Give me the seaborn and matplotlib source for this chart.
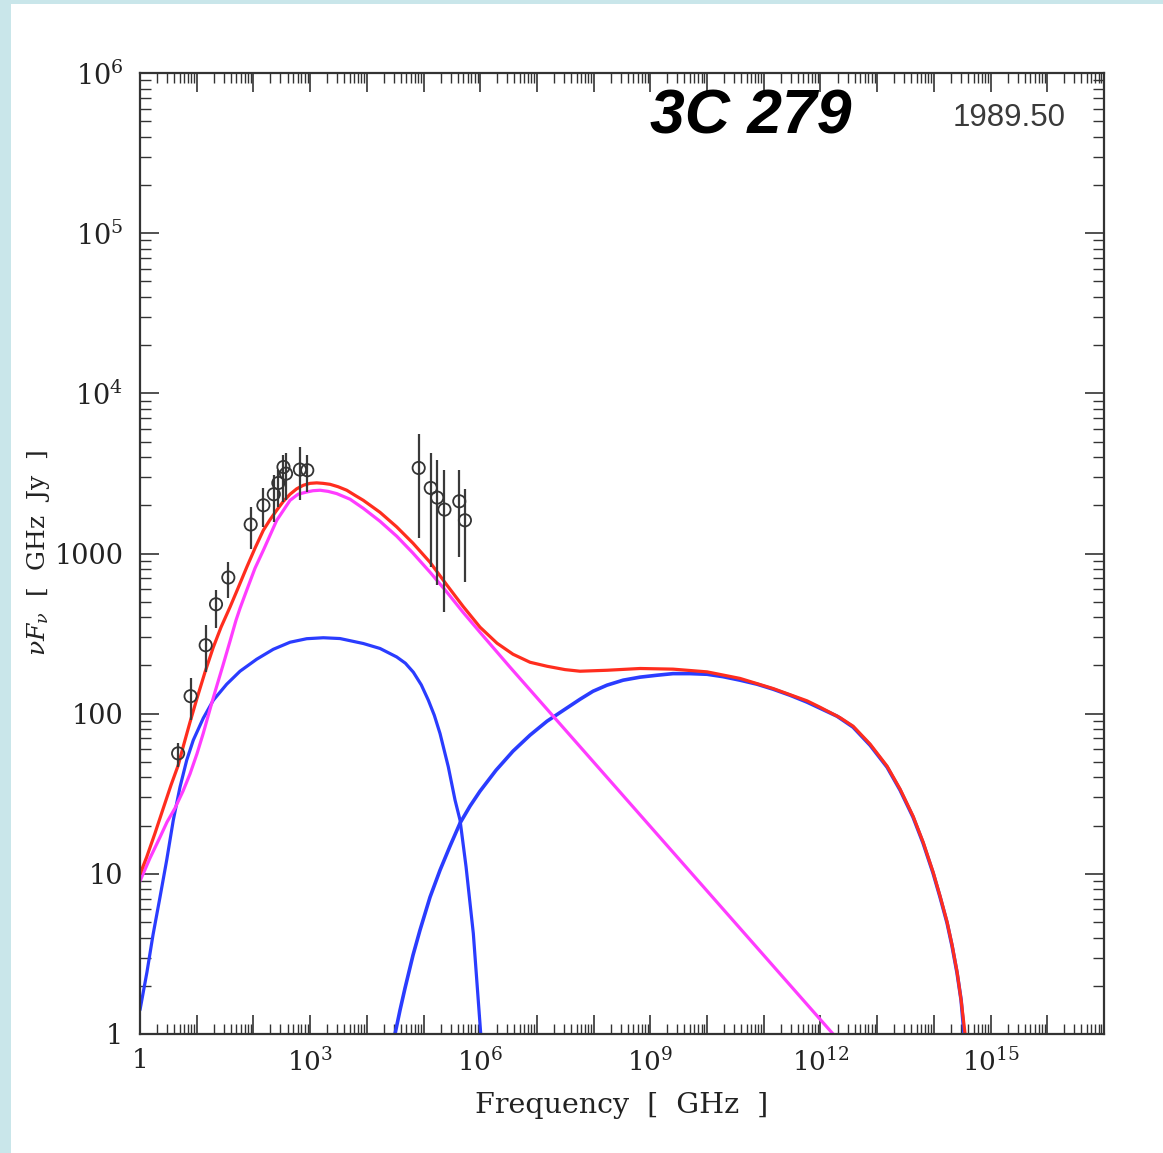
import numpy as np
import pandas as pd
import matplotlib
matplotlib.use("Agg")
import matplotlib.pyplot as plt
import seaborn as sns
from matplotlib.patches import Rectangle
from matplotlib.ticker import FixedLocator, LogLocator, NullFormatter

# ---------------- data (log10 of frequency in GHz, log10 of nuF_nu in GHz Jy) ----------------
magenta_log_nu = [0.000, 0.176, 0.353, 0.476, 0.617, 0.758, 0.882, 1.005, 1.116, 1.265,
                  1.353, 1.464, 1.587, 1.693, 1.764, 1.882, 2.028, 2.175, 2.411, 2.646,
                  2.787, 2.940, 3.051, 3.175, 3.316, 3.469, 3.704, 3.938, 4.233, 4.527,
                  4.815, 5.115, 5.414, 5.697, 5.996, 6.526, 12.222]
magenta_log_f = [0.955, 1.098, 1.229, 1.323, 1.410, 1.516, 1.624, 1.750, 1.878, 2.066,
                 2.172, 2.303, 2.452, 2.583, 2.658, 2.771, 2.908, 3.020, 3.207, 3.332,
                 3.370, 3.384, 3.392, 3.395, 3.388, 3.374, 3.339, 3.282, 3.201, 3.108,
                 3.002, 2.883, 2.758, 2.633, 2.508, 2.290, 0.000]

red_log_nu = [0.000, 0.118, 0.265, 0.411, 0.547, 0.675, 0.764, 0.882, 1.000, 1.146,
              1.293, 1.429, 1.587, 1.728, 1.882, 2.028, 2.175, 2.293, 2.411, 2.522,
              2.646, 2.764, 2.880, 2.998, 3.116, 3.228, 3.351, 3.492, 3.646, 3.792,
              3.938, 4.233, 4.527, 4.815, 5.115, 5.414, 5.697, 5.996, 6.296, 6.578,
              6.878, 7.178, 7.496, 7.760, 8.236, 8.818, 9.400, 10.000, 10.582, 11.164,
              11.764, 11.993, 12.346, 12.575, 12.875, 13.175, 13.404, 13.633, 13.810,
              13.986, 14.109, 14.233, 14.321, 14.409, 14.480, 14.550]
red_log_f = [0.998, 1.105, 1.254, 1.410, 1.554, 1.679, 1.797, 1.947, 2.090, 2.259,
             2.415, 2.540, 2.665, 2.783, 2.914, 3.033, 3.145, 3.211, 3.270, 3.323,
             3.370, 3.404, 3.426, 3.438, 3.441, 3.438, 3.432, 3.417, 3.395, 3.363,
             3.332, 3.257, 3.166, 3.064, 2.945, 2.802, 2.670, 2.540, 2.440, 2.371,
             2.321, 2.296, 2.275, 2.265, 2.271, 2.282, 2.278, 2.261, 2.220, 2.157,
             2.080, 2.040, 1.975, 1.922, 1.810, 1.672, 1.529, 1.360, 1.198,
             1.011, 0.861, 0.699, 0.555, 0.387, 0.212, 0.000]

blue1_log_nu = [0.000, 0.123, 0.229, 0.353, 0.471, 0.587, 0.705, 0.824, 0.940, 1.116,
                1.293, 1.529, 1.764, 2.058, 2.351, 2.646, 2.940, 3.233, 3.527, 3.938,
                4.233, 4.527, 4.680, 4.820, 4.960, 5.085, 5.190, 5.291, 5.437, 5.556,
                5.644, 5.750, 5.878, 6.009]
blue1_log_f = [0.150, 0.387, 0.618, 0.855, 1.086, 1.335, 1.541, 1.710, 1.835, 1.972,
               2.084, 2.184, 2.265, 2.340, 2.402, 2.446, 2.468, 2.474, 2.469, 2.438,
               2.407, 2.354, 2.315, 2.259, 2.180, 2.084, 1.990, 1.876, 1.668, 1.460,
               1.335, 1.044, 0.628, 0.000]

blue2_log_nu = [4.497, 4.586, 4.674, 4.815, 4.938, 5.115, 5.291, 5.467, 5.644, 5.820,
                5.996, 6.279, 6.578, 6.878, 7.178, 7.496, 7.760, 7.989, 8.236, 8.519,
                8.818, 9.118, 9.400, 9.700, 10.000, 10.282, 10.582, 10.882, 11.164,
                11.464, 11.764, 11.993, 12.293, 12.575, 12.875, 13.175, 13.404, 13.633,
                13.810, 13.986, 14.109, 14.233, 14.321, 14.409, 14.480, 14.533]
blue2_log_f = [0.000, 0.150, 0.287, 0.493, 0.649, 0.855, 1.023, 1.173, 1.317, 1.423,
               1.516, 1.647, 1.766, 1.866, 1.953, 2.028, 2.090, 2.140, 2.178, 2.209,
               2.228, 2.240, 2.250, 2.250, 2.246, 2.231, 2.209, 2.184, 2.153,
               2.115, 2.072, 2.034, 1.984, 1.916, 1.803, 1.666, 1.523, 1.354,
               1.192, 1.005, 0.855, 0.693, 0.549, 0.381, 0.212, 0.000]

# observations: frequency [GHz], nuF_nu [GHz Jy], lower and upper error-bar ends
obs_nu = [4.7, 7.8, 14.4, 21.9, 36.1, 89.5, 150, 229, 275, 339, 376, 661, 891,
          82200, 134000, 174000, 234000, 427000, 537000]
obs_f = [56.5, 128.6, 267.5, 482, 708, 1517, 2000, 2344, 2756, 3467, 3152, 3342, 3311,
         3420, 2566, 2234, 1880, 2118, 1612]
obs_lo = [46.6, 91.0, 181.5, 342, 524, 1074, 1465, 1574, 1953, 2098, 2148, 2148, 2421,
          1257, 824, 634, 432, 952, 664]
obs_hi = [65.2, 166.6, 356.6, 590, 885, 1953, 2553, 3077, 3310, 4105, 4227, 4624, 4105,
          5550, 4265, 3819, 3310, 3310, 2543]

x_major_exp = list(range(0, 18))
x_label_text = {0: "1", 3: r"$10^{3}$", 6: r"$10^{6}$", 9: r"$10^{9}$",
                12: r"$10^{12}$", 15: r"$10^{15}$"}
y_major_exp = list(range(0, 7))
y_label_text = ["1", "10", "100", "1000", r"$10^{4}$", r"$10^{5}$", r"$10^{6}$"]

x_title = "Frequency  [  GHz  ]"
y_title = r"$\nu F_\nu$  [  GHz  Jy  ]"
source_name = "3C 279"
epoch_text = "1989.50"

# ---------------- style ----------------
sns.set_style("ticks")
plt.rcParams["font.family"] = ["DejaVu Serif"]
plt.rcParams["mathtext.fontset"] = "dejavuserif"

W, H = 1163, 1153
fig = plt.figure(figsize=(W / 100, H / 100), dpi=100)
fig.patch.set_facecolor("#c9e6ea")
fig.add_artist(Rectangle((11 / W, 0), 1, 1 - 4 / H, transform=fig.transFigure,
                         facecolor="white", edgecolor="none", zorder=-10))

ax = fig.add_axes([140 / W, 1 - 1034 / H, (1104 - 140) / W, (1034 - 73) / H])
ax.set_facecolor("white")
ax.set_xscale("log")
ax.set_yscale("log")


def draw_curve(lognu, logf, color, lw=2.3):
    df = pd.DataFrame({"nu": 10.0 ** np.asarray(lognu), "f": 10.0 ** np.asarray(logf)})
    sns.lineplot(data=df, x="nu", y="f", color=color, lw=lw, sort=False,
                 estimator=None, ax=ax)


draw_curve(blue1_log_nu, blue1_log_f, "#2a3cff")
draw_curve(blue2_log_nu, blue2_log_f, "#2a3cff", lw=2.6)
draw_curve(magenta_log_nu, magenta_log_f, "#ff3cff")
draw_curve(red_log_nu, red_log_f, "#ff2d1e")

ax.vlines(obs_nu, obs_lo, obs_hi, color="#3a3a3a", lw=1.6, zorder=4)
sns.scatterplot(x=obs_nu, y=obs_f, marker="o", s=78, facecolor="none",
                edgecolor="#333333", linewidth=1.3, ax=ax, zorder=5)

ax.set_xlim(1, 1e17)
ax.set_ylim(1, 1e6)

ax.xaxis.set_major_locator(FixedLocator([10.0 ** k for k in x_major_exp]))
ax.set_xticklabels([x_label_text.get(k, "") for k in x_major_exp])
ax.xaxis.set_minor_locator(LogLocator(base=10, subs=np.arange(2, 10), numticks=400))
ax.xaxis.set_minor_formatter(NullFormatter())
ax.yaxis.set_major_locator(FixedLocator([10.0 ** k for k in y_major_exp]))
ax.set_yticklabels(y_label_text)
ax.yaxis.set_minor_locator(LogLocator(base=10, subs=np.arange(2, 10), numticks=400))
ax.yaxis.set_minor_formatter(NullFormatter())

ax.tick_params(which="both", direction="in", top=True, right=True, color="#333333",
               labelcolor="#222222")
ax.tick_params(axis="x", which="major", length=14, width=1.2, pad=10, labelsize=19)
ax.tick_params(axis="x", which="minor", length=7, width=1.0)
ax.tick_params(axis="y", which="major", length=14, width=1.2, pad=12, labelsize=19.5)
ax.tick_params(axis="y", which="minor", length=8, width=1.0)
for sp in ax.spines.values():
    sp.set_visible(True)
    sp.set_linewidth(1.6)
    sp.set_color("#333333")

ax.set_xlabel(x_title, fontsize=20.5, labelpad=11, color="#222222")
ax.set_ylabel(y_title, fontsize=18, labelpad=2, color="#222222")

fig.text(751 / W, 1 - 117 / H, source_name, family="Liberation Sans", weight="bold",
         style="italic", fontsize=45, ha="center", va="center", color="black")
fig.text(1009 / W, 1 - 118 / H, epoch_text, family="Liberation Sans", fontsize=22.5,
         ha="center", va="center", color="#3a3a3a")

fig.savefig("out.png", dpi=100, facecolor=fig.get_facecolor())
